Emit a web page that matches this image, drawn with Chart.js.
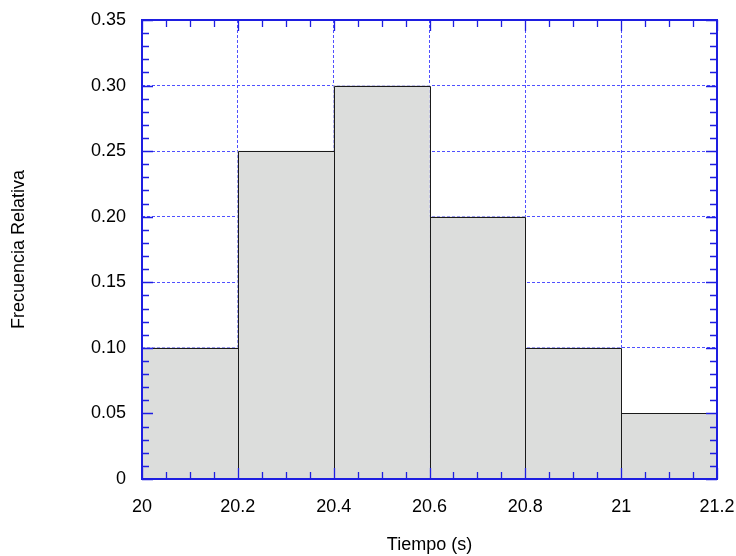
<!DOCTYPE html>
<html>
<head>
<meta charset="utf-8">
<script src="https://cdn.jsdelivr.net/npm/chart.js@4/dist/chart.umd.min.js"></script>
<style>
  html, body { margin: 0; padding: 0; background: #fff; }
  #wrap { width: 736px; height: 556px; }
</style>
</head>
<body>
<div id="wrap"><canvas id="c" width="736" height="556"></canvas></div>
<script>
// Data
const binStarts = [20.0, 20.2, 20.4, 20.6, 20.8, 21.0];
const binWidth = 0.2;
const relFreq = [0.10, 0.25, 0.30, 0.20, 0.10, 0.05];
const xTitle = 'Tiempo (s)';
const yTitle = 'Frecuencia Relativa';

const AXIS_BLUE = 'rgb(30,30,225)';
const GRID_BLUE = 'rgb(80,80,255)';
const FONT = 'Liberation Sans, Arial, sans-serif';
const FS = 18;

const points = binStarts.map((s, i) => ({ x: s + binWidth / 2, y: relFreq[i] }));

// crisp black outlines for the histogram bars, taken from the bar elements
const barOutlines = {
  id: 'barOutlines',
  afterDatasetsDraw(chart) {
    const ctx = chart.ctx;
    const meta = chart.getDatasetMeta(0);
    ctx.save();
    ctx.strokeStyle = '#1a1a1a';
    ctx.lineWidth = 1;
    meta.data.forEach(bar => {
      const p = bar.getProps(['x', 'y', 'base', 'width'], true);
      const l = Math.round(p.x - p.width / 2) + 0.5;
      const r = Math.round(p.x + p.width / 2) + 0.5;
      const t = Math.round(p.y) + 0.5;
      const b = Math.round(p.base);
      ctx.beginPath();
      ctx.moveTo(l, b); ctx.lineTo(l, t); ctx.lineTo(r, t); ctx.lineTo(r, b);
      ctx.stroke();
    });
    ctx.restore();
  }
};

const inwardTicks = {
  id: 'inwardTicks',
  afterDraw(chart) {
    const ctx = chart.ctx;
    const a = chart.chartArea;
    const xs = chart.scales.x, ys = chart.scales.y;
    ctx.save();
    ctx.strokeStyle = AXIS_BLUE;
    ctx.lineWidth = 2;
    ctx.strokeRect(a.left, a.top, a.right - a.left, a.bottom - a.top);
    ctx.lineWidth = 1.3;
    for (let k = 0; k <= 24; k++) {
      const v = xs.min + k * 0.05;
      const px = Math.round(xs.getPixelForValue(v)) + 0.5;
      const len = (k % 4 === 0) ? 11 : 7;
      ctx.beginPath();
      ctx.moveTo(px, a.bottom); ctx.lineTo(px, a.bottom - len);
      ctx.moveTo(px, a.top); ctx.lineTo(px, a.top + len);
      ctx.stroke();
    }
    for (let k = 0; k <= 35; k++) {
      const v = k * 0.01;
      const py = Math.round(ys.getPixelForValue(v)) + 0.5;
      const len = (k % 5 === 0) ? 11 : 7;
      ctx.beginPath();
      ctx.moveTo(a.left, py); ctx.lineTo(a.left + len, py);
      ctx.moveTo(a.right, py); ctx.lineTo(a.right - len, py);
      ctx.stroke();
    }
    ctx.restore();
  }
};

new Chart(document.getElementById('c'), {
  type: 'bar',
  data: {
    datasets: [{
      data: points,
      backgroundColor: '#dcdddc',
      borderWidth: 0,
      barPercentage: 1.0,
      categoryPercentage: 1.0
    }]
  },
  options: {
    responsive: false,
    animation: false,
    devicePixelRatio: 1,
    layout: { padding: { left: 0, top: 20, right: 19, bottom: 0 } },
    plugins: { legend: { display: false }, tooltip: { enabled: false } },
    scales: {
      x: {
        type: 'linear',
        min: 20, max: 21.2,
        offset: false,
        afterFit(s) { s.height = 77; s.paddingRight = 0; s.paddingLeft = 0; },
        ticks: {
          stepSize: 0.2,
          color: '#000',
          padding: 17,
          font: { family: FONT, size: FS },
          callback: v => String(Number(v.toFixed(1)))
        },
        grid: { color: GRID_BLUE, lineWidth: 1, drawTicks: false, offset: false },
        border: { display: false, dash: [3, 2] },
        title: {
          display: true, text: xTitle, color: '#000',
          font: { family: FONT, size: FS },
          padding: { top: 0, bottom: 0 }
        }
      },
      y: {
        min: 0, max: 0.35,
        afterFit(s) { s.width = 142; s.paddingTop = 0; s.paddingBottom = 0; },
        ticks: {
          stepSize: 0.05,
          color: '#000',
          padding: 16,
          font: { family: FONT, size: FS },
          callback: v => (Math.abs(v) < 1e-9 ? '0' : v.toFixed(2))
        },
        grid: { color: GRID_BLUE, lineWidth: 1, drawTicks: false },
        border: { display: false, dash: [3, 2] },
        title: {
          display: true, text: yTitle, color: '#000',
          font: { family: FONT, size: FS },
          padding: { top: 8, bottom: 0 }
        }
      }
    }
  },
  plugins: [barOutlines, inwardTicks]
});
</script>
</body>
</html>
